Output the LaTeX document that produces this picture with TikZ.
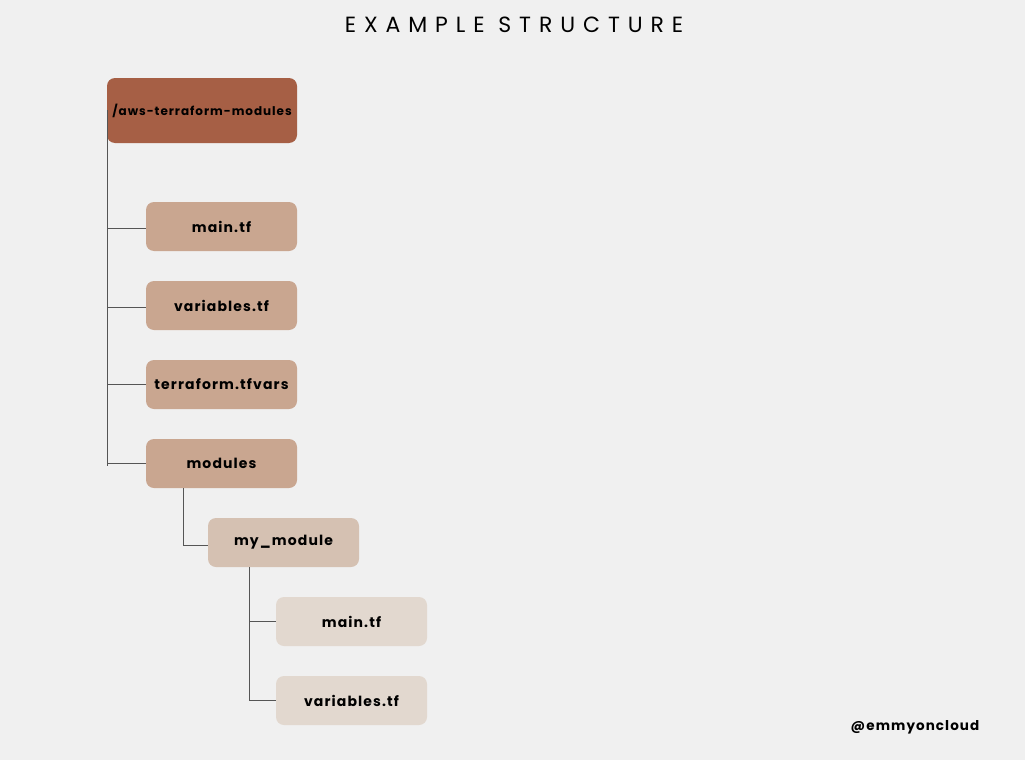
\documentclass[tikz,border=0pt]{standalone}
\usepackage{fontspec}
\setmainfont{Poppins}
\newfontfamily\titlefont[LetterSpace=36]{Poppins}
\newfontfamily\labelfont[LetterSpace=8]{Poppins}
\definecolor{bg}{HTML}{F0F0F0}
\definecolor{rootc}{HTML}{A65F45}
\definecolor{lvlone}{HTML}{C9A690}
\definecolor{lvltwo}{HTML}{D5C1B2}
\definecolor{lvlthree}{HTML}{E2D8CF}
\definecolor{linec}{HTML}{555555}
\tikzset{
  fbox/.style={rounded corners=8pt, inner sep=0pt, minimum width=151pt, minimum height=49pt, font=\labelfont\bfseries\fontsize{14}{16}\selectfont, text=black},
  conn/.style={draw=linec, line width=1pt},
}
\begin{document}
\begin{tikzpicture}[x=1pt,y=-1pt]
\fill[bg] (0,0) rectangle (1025,760);
\useasboundingbox (0,0) rectangle (1025,760);
\node[font=\titlefont\fontsize{22}{26}\selectfont] (title) at (514,25) {EXAMPLE STRUCTURE};
\node[fbox, fill=rootc, minimum width=190pt, minimum height=65pt, font=\labelfont\bfseries\fontsize{12}{14}\selectfont] (root) at (202,110.5) {/aws-terraform-modules};
\node[fbox, fill=lvlone] (maina) at (221.5,226.5) {main.tf};
\node[fbox, fill=lvlone] (vara) at (221.5,305.5) {variables.tf};
\node[fbox, fill=lvlone] (tfv) at (221.5,384.5) {terraform.tfvars};
\node[fbox, fill=lvlone] (mods) at (221.5,463.5) {modules};
\node[fbox, fill=lvltwo] (mym) at (283.5,542.5) {my\_module};
\node[fbox, fill=lvlthree] (mainb) at (351.5,621.5) {main.tf};
\node[fbox, fill=lvlthree] (varb) at (351.5,700.5) {variables.tf};
\node[font=\labelfont\bfseries\fontsize{13.5}{15}\selectfont] (handle) at (915,727) {@emmyoncloud};
\coordinate (rtop) at (107,110);
\coordinate (rbot) at (107,466);
\draw[conn] (rtop) -- (rbot);
\draw[conn] ([yshift=-2pt]maina.west) -- ([yshift=-2pt]maina.west -| rtop);
\draw[conn] ([yshift=-2pt]vara.west) -- ([yshift=-2pt]vara.west -| rtop);
\draw[conn] (tfv.west) -- (tfv.west -| rtop);
\draw[conn] (mods.west) -- (mods.west -| rtop);
\coordinate (mx) at (183,0);
\draw[conn] (mods.south -| mx) |- ([yshift=-3pt]mym.west);
\coordinate (my) at (249,0);
\draw[conn] (mym.south -| my) |- (varb.west);
\draw[conn] (mainb.west) -- (mainb.west -| my);
\end{tikzpicture}
\end{document}
